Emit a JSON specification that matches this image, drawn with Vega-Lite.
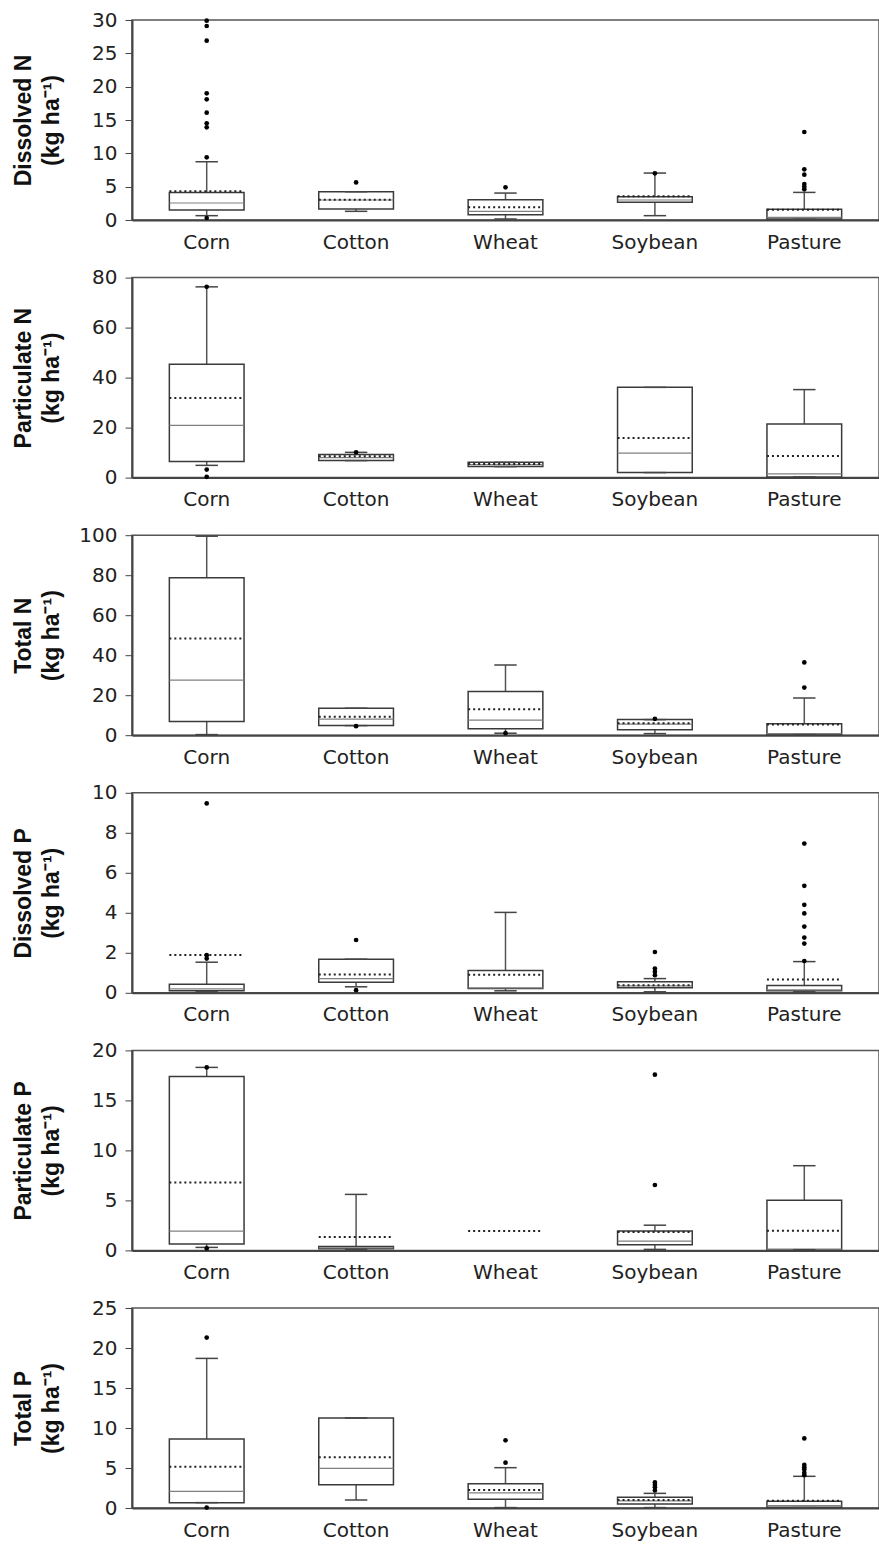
{
  "$schema": "https://vega.github.io/schema/vega-lite/v6.json",
  "padding": {"left": 11, "top": 9, "right": 0, "bottom": 0},
  "spacing": 57.6,
  "bounds": "flush",
  "datasets": {
    "d": [
      {"var": "DN", "crop": "Corn", "lo": 0.65, "q1": 1.5, "med": 2.55, "q3": 4.14, "hi": 8.74, "mean": 4.3},
      {"var": "DN", "crop": "Cotton", "lo": 1.3, "q1": 1.65, "med": 3.0, "q3": 4.24, "hi": 4.24, "mean": 3.05},
      {"var": "DN", "crop": "Wheat", "lo": 0.15, "q1": 0.8, "med": 1.3, "q3": 3.05, "hi": 4.04, "mean": 1.9},
      {"var": "DN", "crop": "Soybean", "lo": 0.65, "q1": 2.65, "med": 3.0, "q3": 3.5, "hi": 7.04, "mean": 3.55},
      {"var": "DN", "crop": "Pasture", "lo": 0.1, "q1": 0.15, "med": 0.4, "q3": 1.6, "hi": 4.14, "mean": 1.55},
      {"var": "DN", "crop": "Corn", "out": 0.3},
      {"var": "DN", "crop": "Corn", "out": 9.4},
      {"var": "DN", "crop": "Corn", "out": 13.9},
      {"var": "DN", "crop": "Corn", "out": 14.5},
      {"var": "DN", "crop": "Corn", "out": 16.1},
      {"var": "DN", "crop": "Corn", "out": 18.1},
      {"var": "DN", "crop": "Corn", "out": 19.0},
      {"var": "DN", "crop": "Corn", "out": 26.9},
      {"var": "DN", "crop": "Corn", "out": 29.1},
      {"var": "DN", "crop": "Corn", "out": 29.9},
      {"var": "DN", "crop": "Cotton", "out": 5.64},
      {"var": "DN", "crop": "Wheat", "out": 4.9},
      {"var": "DN", "crop": "Soybean", "out": 7.0},
      {"var": "DN", "crop": "Pasture", "out": 13.2},
      {"var": "DN", "crop": "Pasture", "out": 7.6},
      {"var": "DN", "crop": "Pasture", "out": 6.8},
      {"var": "DN", "crop": "Pasture", "out": 5.4},
      {"var": "DN", "crop": "Pasture", "out": 5.0},
      {"var": "DN", "crop": "Pasture", "out": 4.6},

      {"var": "PN", "crop": "Corn", "lo": 4.9, "q1": 6.4, "med": 20.9, "q3": 45.3, "hi": 76.3, "mean": 31.8},
      {"var": "PN", "crop": "Cotton", "lo": 6.8, "q1": 6.8, "med": 8.0, "q3": 9.2, "hi": 10.1, "mean": 8.5},
      {"var": "PN", "crop": "Wheat", "lo": 4.4, "q1": 4.4, "med": 5.2, "q3": 6.1, "hi": 6.1, "mean": 5.4},
      {"var": "PN", "crop": "Soybean", "lo": 2.0, "q1": 2.0, "med": 9.8, "q3": 36.1, "hi": 36.1, "mean": 15.8},
      {"var": "PN", "crop": "Pasture", "lo": 0.27, "q1": 0.27, "med": 1.5, "q3": 21.4, "hi": 35.2, "mean": 8.6},
      {"var": "PN", "crop": "Corn", "out": 76.3},
      {"var": "PN", "crop": "Corn", "out": 3.2},
      {"var": "PN", "crop": "Corn", "out": 0.3},
      {"var": "PN", "crop": "Cotton", "out": 10.1},

      {"var": "TN", "crop": "Corn", "lo": 0.3, "q1": 6.8, "med": 27.5, "q3": 78.7, "hi": 99.5, "mean": 48.4},
      {"var": "TN", "crop": "Cotton", "lo": 4.8, "q1": 4.8, "med": 8.0, "q3": 13.5, "hi": 13.5, "mean": 9.2},
      {"var": "TN", "crop": "Wheat", "lo": 1.0, "q1": 3.2, "med": 7.5, "q3": 21.8, "hi": 35.1, "mean": 13.0},
      {"var": "TN", "crop": "Soybean", "lo": 0.8, "q1": 2.7, "med": 5.5, "q3": 7.8, "hi": 7.8, "mean": 6.0},
      {"var": "TN", "crop": "Pasture", "lo": 0.3, "q1": 0.3, "med": 0.8, "q3": 5.7, "hi": 18.6, "mean": 5.3},
      {"var": "TN", "crop": "Cotton", "out": 4.5},
      {"var": "TN", "crop": "Wheat", "out": 1.0},
      {"var": "TN", "crop": "Soybean", "out": 8.2},
      {"var": "TN", "crop": "Pasture", "out": 23.8},
      {"var": "TN", "crop": "Pasture", "out": 36.4},

      {"var": "DP", "crop": "Corn", "lo": 0.05, "q1": 0.1, "med": 0.2, "q3": 0.43, "hi": 1.53, "mean": 1.89},
      {"var": "DP", "crop": "Cotton", "lo": 0.3, "q1": 0.53, "med": 0.71, "q3": 1.68, "hi": 1.68, "mean": 0.91},
      {"var": "DP", "crop": "Wheat", "lo": 0.1, "q1": 0.22, "med": 0.25, "q3": 1.11, "hi": 4.02, "mean": 0.9},
      {"var": "DP", "crop": "Soybean", "lo": 0.05, "q1": 0.25, "med": 0.35, "q3": 0.55, "hi": 0.71, "mean": 0.38},
      {"var": "DP", "crop": "Pasture", "lo": 0.05, "q1": 0.1, "med": 0.15, "q3": 0.37, "hi": 1.56, "mean": 0.66},
      {"var": "DP", "crop": "Corn", "out": 1.71},
      {"var": "DP", "crop": "Corn", "out": 1.88},
      {"var": "DP", "crop": "Corn", "out": 9.47},
      {"var": "DP", "crop": "Cotton", "out": 0.13},
      {"var": "DP", "crop": "Cotton", "out": 2.64},
      {"var": "DP", "crop": "Soybean", "out": 0.88},
      {"var": "DP", "crop": "Soybean", "out": 1.05},
      {"var": "DP", "crop": "Soybean", "out": 1.21},
      {"var": "DP", "crop": "Soybean", "out": 2.04},
      {"var": "DP", "crop": "Pasture", "out": 1.59},
      {"var": "DP", "crop": "Pasture", "out": 2.46},
      {"var": "DP", "crop": "Pasture", "out": 2.76},
      {"var": "DP", "crop": "Pasture", "out": 3.31},
      {"var": "DP", "crop": "Pasture", "out": 3.97},
      {"var": "DP", "crop": "Pasture", "out": 4.4},
      {"var": "DP", "crop": "Pasture", "out": 5.35},
      {"var": "DP", "crop": "Pasture", "out": 7.46},

      {"var": "PP", "crop": "Corn", "lo": 0.3, "q1": 0.63, "med": 1.93, "q3": 17.4, "hi": 18.3, "mean": 6.78},
      {"var": "PP", "crop": "Cotton", "lo": 0.1, "q1": 0.17, "med": 0.25, "q3": 0.4, "hi": 5.6, "mean": 1.33},
      {"var": "PP", "crop": "Wheat", "mean": 1.93},
      {"var": "PP", "crop": "Soybean", "lo": 0.1, "q1": 0.56, "med": 0.93, "q3": 1.93, "hi": 2.52, "mean": 1.83},
      {"var": "PP", "crop": "Pasture", "lo": 0.07, "q1": 0.07, "med": 0.13, "q3": 5.02, "hi": 8.47, "mean": 1.96},
      {"var": "PP", "crop": "Corn", "out": 18.3},
      {"var": "PP", "crop": "Corn", "out": 0.2},
      {"var": "PP", "crop": "Soybean", "out": 6.54},
      {"var": "PP", "crop": "Soybean", "out": 17.57},

      {"var": "TP", "crop": "Corn", "lo": 0.67, "q1": 0.67, "med": 2.08, "q3": 8.63, "hi": 18.7, "mean": 5.17},
      {"var": "TP", "crop": "Cotton", "lo": 1.0, "q1": 2.92, "med": 4.96, "q3": 11.25, "hi": 11.25, "mean": 6.33},
      {"var": "TP", "crop": "Wheat", "lo": 0.05, "q1": 1.08, "med": 1.9, "q3": 3.04, "hi": 5.04, "mean": 2.25},
      {"var": "TP", "crop": "Soybean", "lo": 0.05, "q1": 0.5, "med": 0.9, "q3": 1.33, "hi": 1.83, "mean": 1.0},
      {"var": "TP", "crop": "Pasture", "lo": 0.05, "q1": 0.08, "med": 0.3, "q3": 0.83, "hi": 3.96, "mean": 0.92},
      {"var": "TP", "crop": "Corn", "out": 21.3},
      {"var": "TP", "crop": "Corn", "out": 0.05},
      {"var": "TP", "crop": "Wheat", "out": 5.67},
      {"var": "TP", "crop": "Wheat", "out": 8.46},
      {"var": "TP", "crop": "Soybean", "out": 2.2},
      {"var": "TP", "crop": "Soybean", "out": 2.6},
      {"var": "TP", "crop": "Soybean", "out": 2.9},
      {"var": "TP", "crop": "Soybean", "out": 3.2},
      {"var": "TP", "crop": "Pasture", "out": 4.1},
      {"var": "TP", "crop": "Pasture", "out": 4.4},
      {"var": "TP", "crop": "Pasture", "out": 4.8},
      {"var": "TP", "crop": "Pasture", "out": 5.1},
      {"var": "TP", "crop": "Pasture", "out": 5.4},
      {"var": "TP", "crop": "Pasture", "out": 8.7}
    ]
  },
  "vconcat": [
    {
      "width": 747, "height": 200,
      "data": {"name": "d"},
      "transform": [{"filter": "datum.var === 'DN'"}],
      "encoding": {"x": {"field": "crop", "type": "nominal", "sort": ["Corn", "Cotton", "Wheat", "Soybean", "Pasture"], "scale": {"type": "band", "paddingInner": 0, "paddingOuter": 0}, "axis": {"title": null}}},
      "layer": [
        {"transform": [{"filter": "isValid(datum.lo)"}], "mark": {"type": "rule", "color": "#555", "strokeWidth": 1.5}, "encoding": {"y": {"field": "lo", "type": "quantitative", "scale": {"domain": [0, 30], "nice": false}, "axis": {"title": ["Dissolved N", "(kg ha⁻¹)"], "values": [0, 5, 10, 15, 20, 25, 30], "labelOverlap": false}}, "y2": {"field": "hi"}}},
        {"transform": [{"filter": "isValid(datum.q1)"}], "mark": {"type": "rect", "fill": "white", "stroke": "#3a3a3a", "strokeWidth": 1.5}, "encoding": {"x": {"field": "crop", "type": "nominal", "bandPosition": 0.25}, "x2": {"field": "crop", "bandPosition": 0.75}, "y": {"field": "q1", "type": "quantitative", "axis": {"title": ["Dissolved N", "(kg ha⁻¹)"], "values": [0, 5, 10, 15, 20, 25, 30], "labelOverlap": false}}, "y2": {"field": "q3"}}},
        {"transform": [{"filter": "isValid(datum.med)"}], "mark": {"type": "rule", "color": "#808080", "strokeWidth": 1.2}, "encoding": {"x": {"field": "crop", "type": "nominal", "bandPosition": 0.25}, "x2": {"field": "crop", "bandPosition": 0.75}, "y": {"field": "med", "type": "quantitative", "axis": {"title": ["Dissolved N", "(kg ha⁻¹)"], "values": [0, 5, 10, 15, 20, 25, 30], "labelOverlap": false}}}},
        {"transform": [{"filter": "isValid(datum.hi)"}], "mark": {"type": "rule", "color": "#444", "strokeWidth": 1.5}, "encoding": {"x": {"field": "crop", "type": "nominal", "bandPosition": 0.425}, "x2": {"field": "crop", "bandPosition": 0.575}, "y": {"field": "hi", "type": "quantitative", "axis": {"title": ["Dissolved N", "(kg ha⁻¹)"], "values": [0, 5, 10, 15, 20, 25, 30], "labelOverlap": false}}}},
        {"transform": [{"filter": "isValid(datum.lo)"}], "mark": {"type": "rule", "color": "#444", "strokeWidth": 1.5}, "encoding": {"x": {"field": "crop", "type": "nominal", "bandPosition": 0.425}, "x2": {"field": "crop", "bandPosition": 0.575}, "y": {"field": "lo", "type": "quantitative", "axis": {"title": ["Dissolved N", "(kg ha⁻¹)"], "values": [0, 5, 10, 15, 20, 25, 30], "labelOverlap": false}}}},
        {"transform": [{"filter": "isValid(datum.mean)"}], "mark": {"type": "rule", "color": "#222", "strokeWidth": 2, "strokeDash": [2, 3]}, "encoding": {"x": {"field": "crop", "type": "nominal", "bandPosition": 0.25}, "x2": {"field": "crop", "bandPosition": 0.75}, "y": {"field": "mean", "type": "quantitative", "axis": {"title": ["Dissolved N", "(kg ha⁻¹)"], "values": [0, 5, 10, 15, 20, 25, 30], "labelOverlap": false}}}},
        {"transform": [{"filter": "isValid(datum.out)"}], "mark": {"type": "point", "filled": true, "color": "#000", "size": 22, "opacity": 1}, "encoding": {"y": {"field": "out", "type": "quantitative", "axis": {"title": ["Dissolved N", "(kg ha⁻¹)"], "values": [0, 5, 10, 15, 20, 25, 30], "labelOverlap": false}}}}
      ]
    },
    {
      "width": 747, "height": 200,
      "data": {"name": "d"},
      "transform": [{"filter": "datum.var === 'PN'"}],
      "encoding": {"x": {"field": "crop", "type": "nominal", "sort": ["Corn", "Cotton", "Wheat", "Soybean", "Pasture"], "scale": {"type": "band", "paddingInner": 0, "paddingOuter": 0}, "axis": {"title": null}}},
      "layer": [
        {"transform": [{"filter": "isValid(datum.lo)"}], "mark": {"type": "rule", "color": "#555", "strokeWidth": 1.5}, "encoding": {"y": {"field": "lo", "type": "quantitative", "scale": {"domain": [0, 80], "nice": false}, "axis": {"title": ["Particulate N", "(kg ha⁻¹)"], "values": [0, 20, 40, 60, 80], "labelOverlap": false}}, "y2": {"field": "hi"}}},
        {"transform": [{"filter": "isValid(datum.q1)"}], "mark": {"type": "rect", "fill": "white", "stroke": "#3a3a3a", "strokeWidth": 1.5}, "encoding": {"x": {"field": "crop", "type": "nominal", "bandPosition": 0.25}, "x2": {"field": "crop", "bandPosition": 0.75}, "y": {"field": "q1", "type": "quantitative", "axis": {"title": ["Particulate N", "(kg ha⁻¹)"], "values": [0, 20, 40, 60, 80], "labelOverlap": false}}, "y2": {"field": "q3"}}},
        {"transform": [{"filter": "isValid(datum.med)"}], "mark": {"type": "rule", "color": "#808080", "strokeWidth": 1.2}, "encoding": {"x": {"field": "crop", "type": "nominal", "bandPosition": 0.25}, "x2": {"field": "crop", "bandPosition": 0.75}, "y": {"field": "med", "type": "quantitative", "axis": {"title": ["Particulate N", "(kg ha⁻¹)"], "values": [0, 20, 40, 60, 80], "labelOverlap": false}}}},
        {"transform": [{"filter": "isValid(datum.hi)"}], "mark": {"type": "rule", "color": "#444", "strokeWidth": 1.5}, "encoding": {"x": {"field": "crop", "type": "nominal", "bandPosition": 0.425}, "x2": {"field": "crop", "bandPosition": 0.575}, "y": {"field": "hi", "type": "quantitative", "axis": {"title": ["Particulate N", "(kg ha⁻¹)"], "values": [0, 20, 40, 60, 80], "labelOverlap": false}}}},
        {"transform": [{"filter": "isValid(datum.lo)"}], "mark": {"type": "rule", "color": "#444", "strokeWidth": 1.5}, "encoding": {"x": {"field": "crop", "type": "nominal", "bandPosition": 0.425}, "x2": {"field": "crop", "bandPosition": 0.575}, "y": {"field": "lo", "type": "quantitative", "axis": {"title": ["Particulate N", "(kg ha⁻¹)"], "values": [0, 20, 40, 60, 80], "labelOverlap": false}}}},
        {"transform": [{"filter": "isValid(datum.mean)"}], "mark": {"type": "rule", "color": "#222", "strokeWidth": 2, "strokeDash": [2, 3]}, "encoding": {"x": {"field": "crop", "type": "nominal", "bandPosition": 0.25}, "x2": {"field": "crop", "bandPosition": 0.75}, "y": {"field": "mean", "type": "quantitative", "axis": {"title": ["Particulate N", "(kg ha⁻¹)"], "values": [0, 20, 40, 60, 80], "labelOverlap": false}}}},
        {"transform": [{"filter": "isValid(datum.out)"}], "mark": {"type": "point", "filled": true, "color": "#000", "size": 22, "opacity": 1}, "encoding": {"y": {"field": "out", "type": "quantitative", "axis": {"title": ["Particulate N", "(kg ha⁻¹)"], "values": [0, 20, 40, 60, 80], "labelOverlap": false}}}}
      ]
    },
    {
      "width": 747, "height": 200,
      "data": {"name": "d"},
      "transform": [{"filter": "datum.var === 'TN'"}],
      "encoding": {"x": {"field": "crop", "type": "nominal", "sort": ["Corn", "Cotton", "Wheat", "Soybean", "Pasture"], "scale": {"type": "band", "paddingInner": 0, "paddingOuter": 0}, "axis": {"title": null}}},
      "layer": [
        {"transform": [{"filter": "isValid(datum.lo)"}], "mark": {"type": "rule", "color": "#555", "strokeWidth": 1.5}, "encoding": {"y": {"field": "lo", "type": "quantitative", "scale": {"domain": [0, 100], "nice": false}, "axis": {"title": ["Total N", "(kg ha⁻¹)"], "values": [0, 20, 40, 60, 80, 100], "labelOverlap": false}}, "y2": {"field": "hi"}}},
        {"transform": [{"filter": "isValid(datum.q1)"}], "mark": {"type": "rect", "fill": "white", "stroke": "#3a3a3a", "strokeWidth": 1.5}, "encoding": {"x": {"field": "crop", "type": "nominal", "bandPosition": 0.25}, "x2": {"field": "crop", "bandPosition": 0.75}, "y": {"field": "q1", "type": "quantitative", "axis": {"title": ["Total N", "(kg ha⁻¹)"], "values": [0, 20, 40, 60, 80, 100], "labelOverlap": false}}, "y2": {"field": "q3"}}},
        {"transform": [{"filter": "isValid(datum.med)"}], "mark": {"type": "rule", "color": "#808080", "strokeWidth": 1.2}, "encoding": {"x": {"field": "crop", "type": "nominal", "bandPosition": 0.25}, "x2": {"field": "crop", "bandPosition": 0.75}, "y": {"field": "med", "type": "quantitative", "axis": {"title": ["Total N", "(kg ha⁻¹)"], "values": [0, 20, 40, 60, 80, 100], "labelOverlap": false}}}},
        {"transform": [{"filter": "isValid(datum.hi)"}], "mark": {"type": "rule", "color": "#444", "strokeWidth": 1.5}, "encoding": {"x": {"field": "crop", "type": "nominal", "bandPosition": 0.425}, "x2": {"field": "crop", "bandPosition": 0.575}, "y": {"field": "hi", "type": "quantitative", "axis": {"title": ["Total N", "(kg ha⁻¹)"], "values": [0, 20, 40, 60, 80, 100], "labelOverlap": false}}}},
        {"transform": [{"filter": "isValid(datum.lo)"}], "mark": {"type": "rule", "color": "#444", "strokeWidth": 1.5}, "encoding": {"x": {"field": "crop", "type": "nominal", "bandPosition": 0.425}, "x2": {"field": "crop", "bandPosition": 0.575}, "y": {"field": "lo", "type": "quantitative", "axis": {"title": ["Total N", "(kg ha⁻¹)"], "values": [0, 20, 40, 60, 80, 100], "labelOverlap": false}}}},
        {"transform": [{"filter": "isValid(datum.mean)"}], "mark": {"type": "rule", "color": "#222", "strokeWidth": 2, "strokeDash": [2, 3]}, "encoding": {"x": {"field": "crop", "type": "nominal", "bandPosition": 0.25}, "x2": {"field": "crop", "bandPosition": 0.75}, "y": {"field": "mean", "type": "quantitative", "axis": {"title": ["Total N", "(kg ha⁻¹)"], "values": [0, 20, 40, 60, 80, 100], "labelOverlap": false}}}},
        {"transform": [{"filter": "isValid(datum.out)"}], "mark": {"type": "point", "filled": true, "color": "#000", "size": 22, "opacity": 1}, "encoding": {"y": {"field": "out", "type": "quantitative", "axis": {"title": ["Total N", "(kg ha⁻¹)"], "values": [0, 20, 40, 60, 80, 100], "labelOverlap": false}}}}
      ]
    },
    {
      "width": 747, "height": 200,
      "data": {"name": "d"},
      "transform": [{"filter": "datum.var === 'DP'"}],
      "encoding": {"x": {"field": "crop", "type": "nominal", "sort": ["Corn", "Cotton", "Wheat", "Soybean", "Pasture"], "scale": {"type": "band", "paddingInner": 0, "paddingOuter": 0}, "axis": {"title": null}}},
      "layer": [
        {"transform": [{"filter": "isValid(datum.lo)"}], "mark": {"type": "rule", "color": "#555", "strokeWidth": 1.5}, "encoding": {"y": {"field": "lo", "type": "quantitative", "scale": {"domain": [0, 10], "nice": false}, "axis": {"title": ["Dissolved P", "(kg ha⁻¹)"], "values": [0, 2, 4, 6, 8, 10], "labelOverlap": false}}, "y2": {"field": "hi"}}},
        {"transform": [{"filter": "isValid(datum.q1)"}], "mark": {"type": "rect", "fill": "white", "stroke": "#3a3a3a", "strokeWidth": 1.5}, "encoding": {"x": {"field": "crop", "type": "nominal", "bandPosition": 0.25}, "x2": {"field": "crop", "bandPosition": 0.75}, "y": {"field": "q1", "type": "quantitative", "axis": {"title": ["Dissolved P", "(kg ha⁻¹)"], "values": [0, 2, 4, 6, 8, 10], "labelOverlap": false}}, "y2": {"field": "q3"}}},
        {"transform": [{"filter": "isValid(datum.med)"}], "mark": {"type": "rule", "color": "#808080", "strokeWidth": 1.2}, "encoding": {"x": {"field": "crop", "type": "nominal", "bandPosition": 0.25}, "x2": {"field": "crop", "bandPosition": 0.75}, "y": {"field": "med", "type": "quantitative", "axis": {"title": ["Dissolved P", "(kg ha⁻¹)"], "values": [0, 2, 4, 6, 8, 10], "labelOverlap": false}}}},
        {"transform": [{"filter": "isValid(datum.hi)"}], "mark": {"type": "rule", "color": "#444", "strokeWidth": 1.5}, "encoding": {"x": {"field": "crop", "type": "nominal", "bandPosition": 0.425}, "x2": {"field": "crop", "bandPosition": 0.575}, "y": {"field": "hi", "type": "quantitative", "axis": {"title": ["Dissolved P", "(kg ha⁻¹)"], "values": [0, 2, 4, 6, 8, 10], "labelOverlap": false}}}},
        {"transform": [{"filter": "isValid(datum.lo)"}], "mark": {"type": "rule", "color": "#444", "strokeWidth": 1.5}, "encoding": {"x": {"field": "crop", "type": "nominal", "bandPosition": 0.425}, "x2": {"field": "crop", "bandPosition": 0.575}, "y": {"field": "lo", "type": "quantitative", "axis": {"title": ["Dissolved P", "(kg ha⁻¹)"], "values": [0, 2, 4, 6, 8, 10], "labelOverlap": false}}}},
        {"transform": [{"filter": "isValid(datum.mean)"}], "mark": {"type": "rule", "color": "#222", "strokeWidth": 2, "strokeDash": [2, 3]}, "encoding": {"x": {"field": "crop", "type": "nominal", "bandPosition": 0.25}, "x2": {"field": "crop", "bandPosition": 0.75}, "y": {"field": "mean", "type": "quantitative", "axis": {"title": ["Dissolved P", "(kg ha⁻¹)"], "values": [0, 2, 4, 6, 8, 10], "labelOverlap": false}}}},
        {"transform": [{"filter": "isValid(datum.out)"}], "mark": {"type": "point", "filled": true, "color": "#000", "size": 22, "opacity": 1}, "encoding": {"y": {"field": "out", "type": "quantitative", "axis": {"title": ["Dissolved P", "(kg ha⁻¹)"], "values": [0, 2, 4, 6, 8, 10], "labelOverlap": false}}}}
      ]
    },
    {
      "width": 747, "height": 200,
      "data": {"name": "d"},
      "transform": [{"filter": "datum.var === 'PP'"}],
      "encoding": {"x": {"field": "crop", "type": "nominal", "sort": ["Corn", "Cotton", "Wheat", "Soybean", "Pasture"], "scale": {"type": "band", "paddingInner": 0, "paddingOuter": 0}, "axis": {"title": null}}},
      "layer": [
        {"transform": [{"filter": "isValid(datum.lo)"}], "mark": {"type": "rule", "color": "#555", "strokeWidth": 1.5}, "encoding": {"y": {"field": "lo", "type": "quantitative", "scale": {"domain": [0, 20], "nice": false}, "axis": {"title": ["Particulate P", "(kg ha⁻¹)"], "values": [0, 5, 10, 15, 20], "labelOverlap": false}}, "y2": {"field": "hi"}}},
        {"transform": [{"filter": "isValid(datum.q1)"}], "mark": {"type": "rect", "fill": "white", "stroke": "#3a3a3a", "strokeWidth": 1.5}, "encoding": {"x": {"field": "crop", "type": "nominal", "bandPosition": 0.25}, "x2": {"field": "crop", "bandPosition": 0.75}, "y": {"field": "q1", "type": "quantitative", "axis": {"title": ["Particulate P", "(kg ha⁻¹)"], "values": [0, 5, 10, 15, 20], "labelOverlap": false}}, "y2": {"field": "q3"}}},
        {"transform": [{"filter": "isValid(datum.med)"}], "mark": {"type": "rule", "color": "#808080", "strokeWidth": 1.2}, "encoding": {"x": {"field": "crop", "type": "nominal", "bandPosition": 0.25}, "x2": {"field": "crop", "bandPosition": 0.75}, "y": {"field": "med", "type": "quantitative", "axis": {"title": ["Particulate P", "(kg ha⁻¹)"], "values": [0, 5, 10, 15, 20], "labelOverlap": false}}}},
        {"transform": [{"filter": "isValid(datum.hi)"}], "mark": {"type": "rule", "color": "#444", "strokeWidth": 1.5}, "encoding": {"x": {"field": "crop", "type": "nominal", "bandPosition": 0.425}, "x2": {"field": "crop", "bandPosition": 0.575}, "y": {"field": "hi", "type": "quantitative", "axis": {"title": ["Particulate P", "(kg ha⁻¹)"], "values": [0, 5, 10, 15, 20], "labelOverlap": false}}}},
        {"transform": [{"filter": "isValid(datum.lo)"}], "mark": {"type": "rule", "color": "#444", "strokeWidth": 1.5}, "encoding": {"x": {"field": "crop", "type": "nominal", "bandPosition": 0.425}, "x2": {"field": "crop", "bandPosition": 0.575}, "y": {"field": "lo", "type": "quantitative", "axis": {"title": ["Particulate P", "(kg ha⁻¹)"], "values": [0, 5, 10, 15, 20], "labelOverlap": false}}}},
        {"transform": [{"filter": "isValid(datum.mean)"}], "mark": {"type": "rule", "color": "#222", "strokeWidth": 2, "strokeDash": [2, 3]}, "encoding": {"x": {"field": "crop", "type": "nominal", "bandPosition": 0.25}, "x2": {"field": "crop", "bandPosition": 0.75}, "y": {"field": "mean", "type": "quantitative", "axis": {"title": ["Particulate P", "(kg ha⁻¹)"], "values": [0, 5, 10, 15, 20], "labelOverlap": false}}}},
        {"transform": [{"filter": "isValid(datum.out)"}], "mark": {"type": "point", "filled": true, "color": "#000", "size": 22, "opacity": 1}, "encoding": {"y": {"field": "out", "type": "quantitative", "axis": {"title": ["Particulate P", "(kg ha⁻¹)"], "values": [0, 5, 10, 15, 20], "labelOverlap": false}}}}
      ]
    },
    {
      "width": 747, "height": 200,
      "data": {"name": "d"},
      "transform": [{"filter": "datum.var === 'TP'"}],
      "encoding": {"x": {"field": "crop", "type": "nominal", "sort": ["Corn", "Cotton", "Wheat", "Soybean", "Pasture"], "scale": {"type": "band", "paddingInner": 0, "paddingOuter": 0}, "axis": {"title": null}}},
      "layer": [
        {"transform": [{"filter": "isValid(datum.lo)"}], "mark": {"type": "rule", "color": "#555", "strokeWidth": 1.5}, "encoding": {"y": {"field": "lo", "type": "quantitative", "scale": {"domain": [0, 25], "nice": false}, "axis": {"title": ["Total P", "(kg ha⁻¹)"], "values": [0, 5, 10, 15, 20, 25], "labelOverlap": false}}, "y2": {"field": "hi"}}},
        {"transform": [{"filter": "isValid(datum.q1)"}], "mark": {"type": "rect", "fill": "white", "stroke": "#3a3a3a", "strokeWidth": 1.5}, "encoding": {"x": {"field": "crop", "type": "nominal", "bandPosition": 0.25}, "x2": {"field": "crop", "bandPosition": 0.75}, "y": {"field": "q1", "type": "quantitative", "axis": {"title": ["Total P", "(kg ha⁻¹)"], "values": [0, 5, 10, 15, 20, 25], "labelOverlap": false}}, "y2": {"field": "q3"}}},
        {"transform": [{"filter": "isValid(datum.med)"}], "mark": {"type": "rule", "color": "#808080", "strokeWidth": 1.2}, "encoding": {"x": {"field": "crop", "type": "nominal", "bandPosition": 0.25}, "x2": {"field": "crop", "bandPosition": 0.75}, "y": {"field": "med", "type": "quantitative", "axis": {"title": ["Total P", "(kg ha⁻¹)"], "values": [0, 5, 10, 15, 20, 25], "labelOverlap": false}}}},
        {"transform": [{"filter": "isValid(datum.hi)"}], "mark": {"type": "rule", "color": "#444", "strokeWidth": 1.5}, "encoding": {"x": {"field": "crop", "type": "nominal", "bandPosition": 0.425}, "x2": {"field": "crop", "bandPosition": 0.575}, "y": {"field": "hi", "type": "quantitative", "axis": {"title": ["Total P", "(kg ha⁻¹)"], "values": [0, 5, 10, 15, 20, 25], "labelOverlap": false}}}},
        {"transform": [{"filter": "isValid(datum.lo)"}], "mark": {"type": "rule", "color": "#444", "strokeWidth": 1.5}, "encoding": {"x": {"field": "crop", "type": "nominal", "bandPosition": 0.425}, "x2": {"field": "crop", "bandPosition": 0.575}, "y": {"field": "lo", "type": "quantitative", "axis": {"title": ["Total P", "(kg ha⁻¹)"], "values": [0, 5, 10, 15, 20, 25], "labelOverlap": false}}}},
        {"transform": [{"filter": "isValid(datum.mean)"}], "mark": {"type": "rule", "color": "#222", "strokeWidth": 2, "strokeDash": [2, 3]}, "encoding": {"x": {"field": "crop", "type": "nominal", "bandPosition": 0.25}, "x2": {"field": "crop", "bandPosition": 0.75}, "y": {"field": "mean", "type": "quantitative", "axis": {"title": ["Total P", "(kg ha⁻¹)"], "values": [0, 5, 10, 15, 20, 25], "labelOverlap": false}}}},
        {"transform": [{"filter": "isValid(datum.out)"}], "mark": {"type": "point", "filled": true, "color": "#000", "size": 22, "opacity": 1}, "encoding": {"y": {"field": "out", "type": "quantitative", "axis": {"title": ["Total P", "(kg ha⁻¹)"], "values": [0, 5, 10, 15, 20, 25], "labelOverlap": false}}}}
      ]
    }
  ],
  "config": {
    "font": "DejaVu Sans",
    "view": {"stroke": "#555", "strokeWidth": 1.5},
    "axis": {"labelFont": "DejaVu Sans", "labelFontSize": 20, "labelColor": "#222", "domainColor": "#444", "domainWidth": 2, "tickColor": "#444", "grid": false, "labelBound": false, "labelFlush": false},
    "axisY": {"tickSize": 7, "labelPadding": 8, "labelOverlap": false, "titleFont": "Liberation Sans", "titleFontSize": 23, "titleFontWeight": "bold", "titleColor": "#111", "titleLineHeight": 28, "minExtent": 56, "maxExtent": 56, "titlePadding": 13},
    "axisX": {"ticks": false, "tickSize": 0, "labelPadding": 12, "labelAngle": 0, "title": null}
  }
}
